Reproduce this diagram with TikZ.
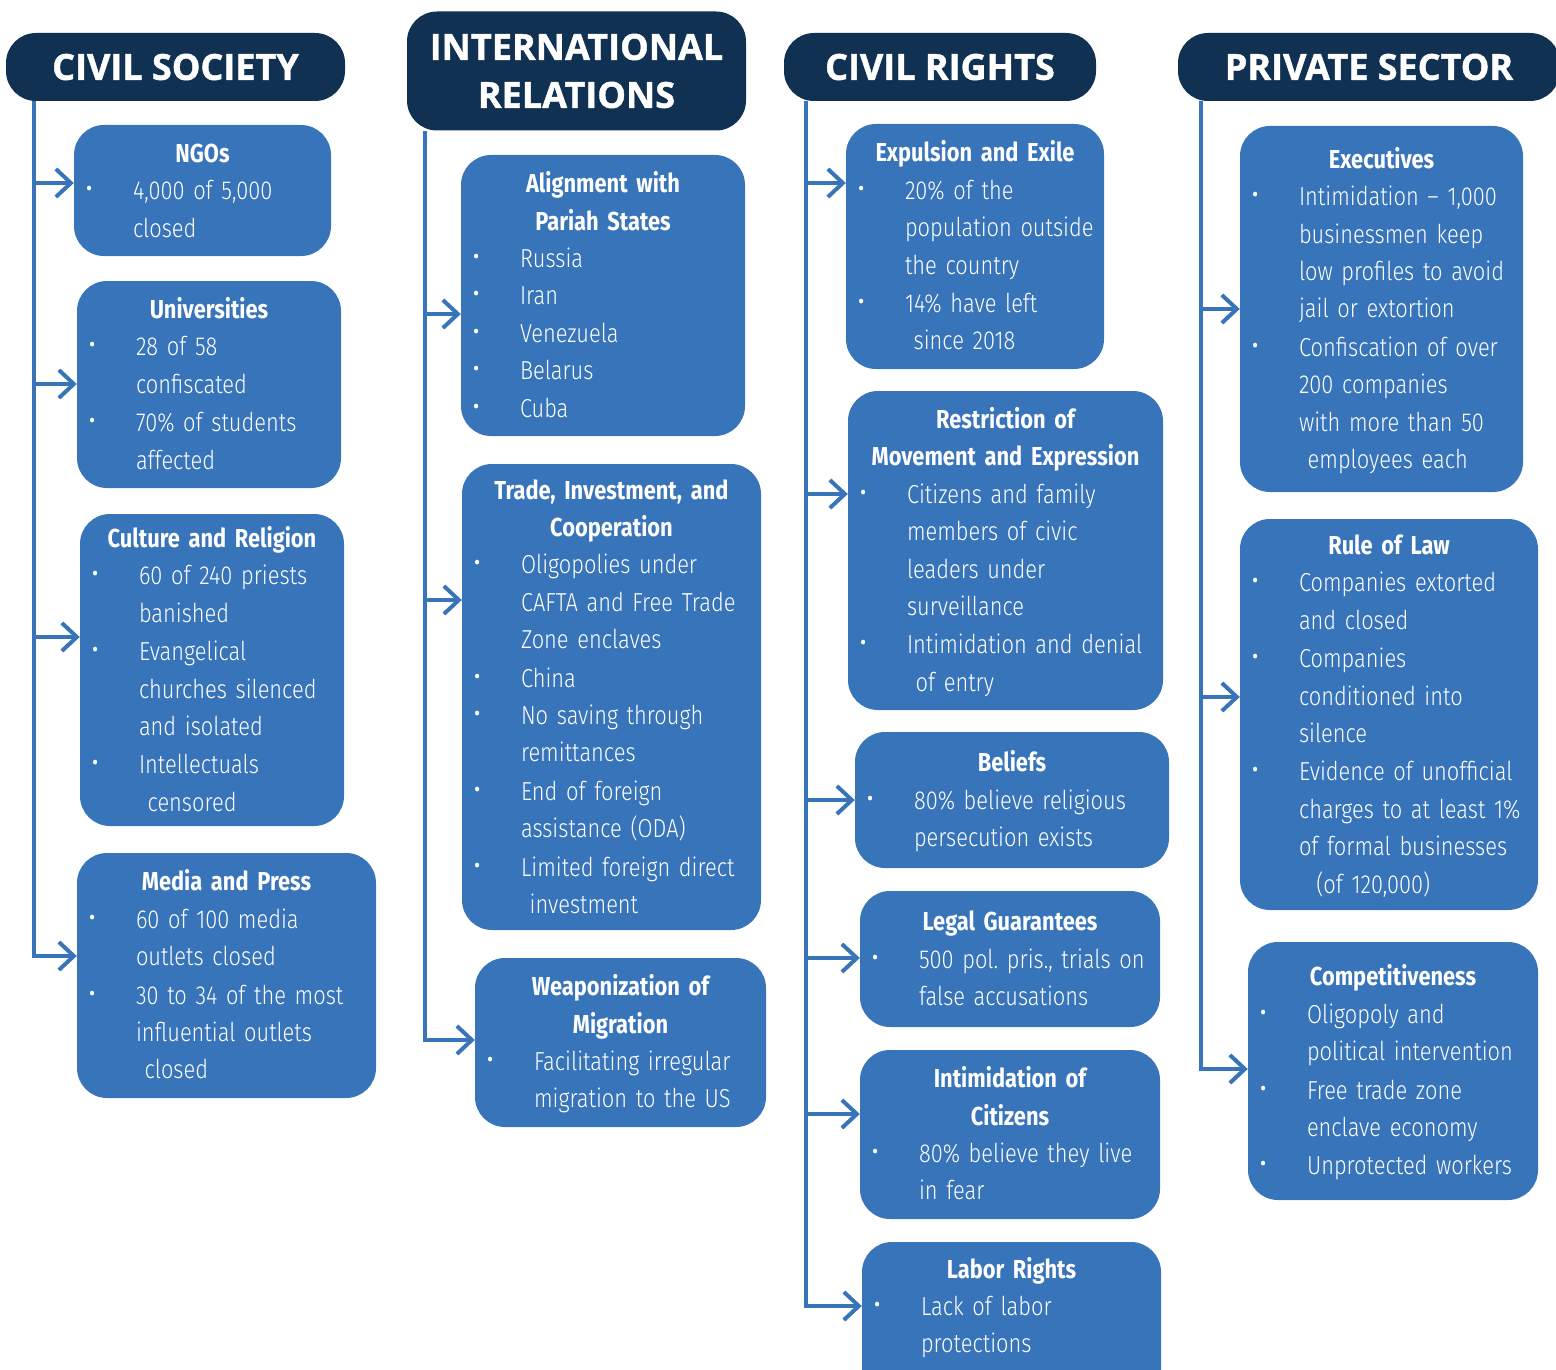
\documentclass[tikz,border=0pt]{standalone}
\usepackage{fontspec}
\usepackage{tikz}
\usetikzlibrary{arrows.meta}

\newfontfamily\bodyfont{Fira Sans}[UprightFont=* Light,BoldFont=* Bold,FakeStretch=0.84]
\newfontfamily\headfont{Open Sans}[BoldFeatures={FakeBold=1.2}]
\definecolor{navy}{RGB}{17,49,82}
\definecolor{boxblue}{RGB}{56,116,186}

\newlength\bulx \setlength\bulx{11.5pt}
\newlength\txtx \setlength\txtx{59pt}
\newcommand\ttl[1]{\makebox[\linewidth]{\rule{0pt}{30pt}\bfseries #1}\par}
\newcommand\itm[1]{\noindent\makebox[\txtx][l]{\hspace*{\bulx}\raisebox{4pt}{\headfont\fontsize{19}{19}\selectfont\textbullet}}%
  \begin{tabular}[t]{@{}l@{}}#1\end{tabular}\par}

\begin{document}
\begin{tikzpicture}[x=1pt,y=-1pt,
    head/.style={fill=navy, text=white, rounded corners=30pt, inner sep=0pt, align=center,
      font=\headfont\bfseries\fontsize{36}{48}\selectfont},
    box/.style={fill=boxblue, text=white, rounded corners=30pt, inner sep=0pt, align=left,
      font=\bodyfont\fontsize{26}{37.4}\selectfont},
    spine/.style={draw=boxblue, line width=4pt, -{Straight Barb[length=15pt,width=28pt]}}]
  \useasboundingbox (0,0) rectangle (1556,1370);
  \clip (0,0) rectangle (1556,1370);

  %% Column headers
  \node[head, minimum width=339pt, minimum height=68pt]  (hcs) at (175.5,67)  {CIVIL SOCIETY};
  \node[head, minimum width=339pt, minimum height=119pt] (hir) at (576.5,71) {INTERNATIONAL\\RELATIONS};
  \node[head, minimum width=312pt, minimum height=68pt]  (hcr) at (940,67)    {CIVIL RIGHTS};
  \node[head, minimum width=382pt, minimum height=68pt]  (hps) at (1369,67)   {PRIVATE SECTOR};

  %% Civil society
  \node[box, text width=257pt, minimum height=131pt] (ngo) at (202.5,190.5) {\ttl{NGOs}
    \itm{4,000 of 5,000\\closed}};
  \node[box, text width=264pt, minimum height=207pt] (uni) at (209,384.5) {\ttl{Universities}
    \itm{28 of 58\\confiscated}
    \itm{70\% of students\\affected}};
  \node[box, text width=264pt, minimum height=312pt] (cul) at (212,670) {\ttl{Culture and Religion}
    \itm{60 of 240 priests\\banished}
    \itm{Evangelical\\churches silenced\\and isolated}
    \itm{Intellectuals\\\ censored}};
  \node[box, text width=299pt, minimum height=245pt] (med) at (226.5,975.5) {\ttl{Media and Press}
    \itm{60 of 100 media\\outlets closed}
    \itm{30 to 34 of the most\\influential outlets\\\ closed}};

  %% International relations
  \node[box, text width=284pt, minimum height=281pt] (ali) at (603,295.5) {\ttl{Alignment with}\ttl{Pariah States}
    \itm{Russia}\itm{Iran}\itm{Venezuela}\itm{Belarus}\itm{Cuba}};
  \node[box, text width=299pt, minimum height=466pt] (tra) at (611.5,697) {\ttl{Trade, Investment, and}\ttl{Cooperation}
    \itm{Oligopolies under\\CAFTA and Free Trade\\Zone enclaves}
    \itm{China}
    \itm{No saving through\\remittances}
    \itm{End of foreign\\assistance (ODA)}
    \itm{Limited foreign direct\\\ investment}};
  \node[box, text width=291pt, minimum height=169pt] (wea) at (620.5,1042.5) {\ttl{Weaponization of}\ttl{Migration}
    \itm{Facilitating irregular\\migration to the US}};

  %% Civil rights
  \node[box, text width=258pt, minimum height=245pt] (exp) at (975,246.5) {\ttl{Expulsion and Exile}
    \itm{20\% of the\\population outside\\the country}
    \itm{14\% have left\\\ since 2018}};
  \node[box, text width=315pt, minimum height=319pt] (res) at (1005.5,550.5) {\ttl{Restriction of}\ttl{Movement and Expression}
    \itm{Citizens and family\\members of civic\\leaders under\\surveillance}
    \itm{Intimidation and denial\\\ of entry}};
  \node[box, text width=314pt, minimum height=136pt] (bel) at (1012,800) {\ttl{Beliefs}
    \itm{80\% believe religious\\persecution exists}};
  \node[box, text width=300pt, minimum height=136pt] (leg) at (1010,959) {\ttl{Legal Guarantees}
    \itm{500 pol.\ pris., trials on\\false accusations}};
  \node[box, text width=300pt, minimum height=169pt] (inti) at (1010,1134.5) {\ttl{Intimidation of}\ttl{Citizens}
    \itm{80\% believe they live\\in fear}};
  \node[box, text width=299pt, minimum height=160pt] (lab) at (1011.5,1322) {\ttl{Labor Rights}
    \itm{Lack of labor\\protections}\vspace*{32pt}};

  %% Private sector
  \node[box, text width=283pt, minimum height=366pt] (exe) at (1381.5,309) {\ttl{Executives}
    \itm{Intimidation – 1,000\\businessmen keep\\low profiles to avoid\\jail or extortion}
    \itm{Confiscation of over\\200 companies\\with more than 50\\\ employees each}};
  \node[box, text width=298pt, minimum height=391pt] (rul) at (1389,714.5) {\ttl{Rule of Law}
    \itm{Companies extorted\\and closed}
    \itm{Companies\\conditioned into\\silence}
    \itm{Evidence of unofficial\\charges to at least 1\%\\of formal businesses\\\ \ (of 120,000)}};
  \node[box, text width=290pt, minimum height=258pt] (com) at (1393,1071) {\ttl{Competitiveness}
    \itm{Oligopoly and\\political intervention}
    \itm{Free trade zone\\enclave economy}
    \itm{Unprotected workers}};

  %% Spines ending in the last arrow of each column
  \draw[spine] (hcs.south -| 34,0)   |- (med.west |- 0,956);
  \draw[spine] (hir.south -| 425,0)  |- (wea.west |- 0,1040);
  \draw[spine] (hcr.south -| 806,0)  |- (lab.west |- 0,1306);
  \draw[spine] (hps.south -| 1201,0) |- (com.west |- 0,1069);

  %% Remaining arrows
  \foreach \b/\x/\y in {ngo/34/183, uni/34/384, cul/34/637,
                        ali/425/314, tra/425/600,
                        exp/806/183, res/806/494, bel/806/800, leg/806/958, inti/806/1114,
                        exe/1201/309, rul/1201/697}
  {
    \draw[spine] (\x,\y) -- (\b.west |- 0,\y);
  }
\end{tikzpicture}
\end{document}
